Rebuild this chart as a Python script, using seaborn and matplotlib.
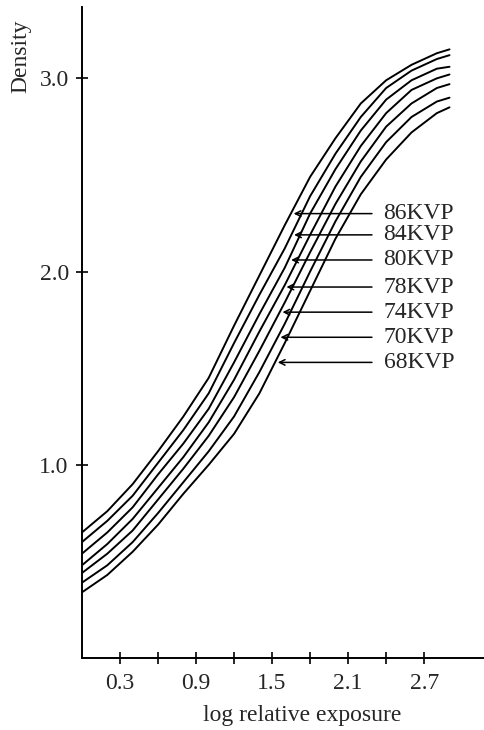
import numpy as np
import pandas as pd
import matplotlib
matplotlib.use("Agg")
import matplotlib.pyplot as plt
import seaborn as sns

# values
exposure = [0.0, 0.2, 0.4, 0.6, 0.8, 1.0, 1.2, 1.4, 1.6, 1.8, 2.0, 2.2, 2.4, 2.6, 2.8, 2.9]
density_86 = [0.65, 0.76, 0.90, 1.07, 1.25, 1.45, 1.72, 1.98, 2.24, 2.49, 2.69, 2.87, 2.99, 3.07, 3.13, 3.15]
density_84 = [0.60, 0.71, 0.84, 1.01, 1.18, 1.37, 1.63, 1.88, 2.12, 2.39, 2.61, 2.80, 2.95, 3.04, 3.10, 3.12]
density_80 = [0.54, 0.65, 0.78, 0.95, 1.11, 1.29, 1.53, 1.78, 2.02, 2.30, 2.53, 2.73, 2.89, 2.99, 3.05, 3.06]
density_78 = [0.48, 0.59, 0.72, 0.88, 1.04, 1.22, 1.44, 1.69, 1.93, 2.19, 2.44, 2.65, 2.82, 2.94, 3.00, 3.02]
density_74 = [0.44, 0.54, 0.66, 0.82, 0.98, 1.15, 1.35, 1.59, 1.84, 2.10, 2.35, 2.57, 2.75, 2.87, 2.95, 2.97]
density_70 = [0.39, 0.48, 0.60, 0.75, 0.91, 1.07, 1.25, 1.48, 1.73, 2.00, 2.26, 2.49, 2.67, 2.80, 2.88, 2.90]
density_68 = [0.34, 0.43, 0.55, 0.69, 0.85, 1.00, 1.16, 1.37, 1.63, 1.90, 2.17, 2.40, 2.58, 2.72, 2.82, 2.85]

kvp_labels = ["86KVP", "84KVP", "80KVP", "78KVP", "74KVP", "70KVP", "68KVP"]
curves = [density_86, density_84, density_80, density_78, density_74, density_70, density_68]
# density level where each label's arrow meets its curve
arrow_density = [2.30, 2.19, 2.06, 1.92, 1.79, 1.66, 1.53]

x_ticks = [0.3, 0.9, 1.5, 2.1, 2.7]
x_minor = [0.6, 1.2, 1.8, 2.4]
y_ticks = [1.0, 2.0, 3.0]

df = pd.concat(
    [pd.DataFrame({"exposure": exposure, "density": d, "kvp": k}) for k, d in zip(kvp_labels, curves)],
    ignore_index=True,
)

sns.set_style("ticks")
plt.rcParams["font.family"] = ["Liberation Serif", "DejaVu Serif"]

fig = plt.figure(figsize=(4.85, 7.30), dpi=100)
ax = fig.add_axes([0.169, 0.0986, 0.831, 0.892])

sns.lineplot(data=df, x="exposure", y="density", hue="kvp", palette=["black"] * 7,
             estimator=None, legend=False, linewidth=1.4, ax=ax)
for ln in ax.lines:
    ln.set_solid_joinstyle("round")

ax.set_xlim(0, 3.18)
ax.set_ylim(0, 3.37)
for s in ["top", "right"]:
    ax.spines[s].set_visible(False)
for s in ["left", "bottom"]:
    ax.spines[s].set_linewidth(1.4)
    ax.spines[s].set_color("black")

ax.set_xticks(x_ticks)
ax.set_xticklabels([f"{v:.1f}" for v in x_ticks])
ax.set_xticks(x_minor, minor=True)
ax.set_yticks(y_ticks)
ax.set_yticklabels([f"{v:.1f}" for v in y_ticks])
ax.tick_params(which="both", direction="inout", length=9, width=1.2, color="black", labelsize=17)
ax.tick_params(axis="x", pad=6)
ax.tick_params(axis="y", pad=5)

ax.set_xlabel("log relative exposure", fontsize=17)
ax.xaxis.set_label_coords(0.546, -0.072)
ax.set_ylabel("")
fig.text(21 / 485, 1 - 56 / 730, "Density", rotation=90, ha="center", va="center", fontsize=17)

# labels with arrows pointing to each curve
for lab, d, lvl in zip(kvp_labels, curves, arrow_density):
    tip = np.interp(lvl, d, exposure)
    ax.annotate("", xy=(tip, lvl), xytext=(2.31, lvl),
                arrowprops=dict(arrowstyle="->", lw=1.1, color="black"))
    ax.text(2.38, lvl, lab, ha="left", va="center", fontsize=17)

fig.savefig("out.png", dpi=100)
